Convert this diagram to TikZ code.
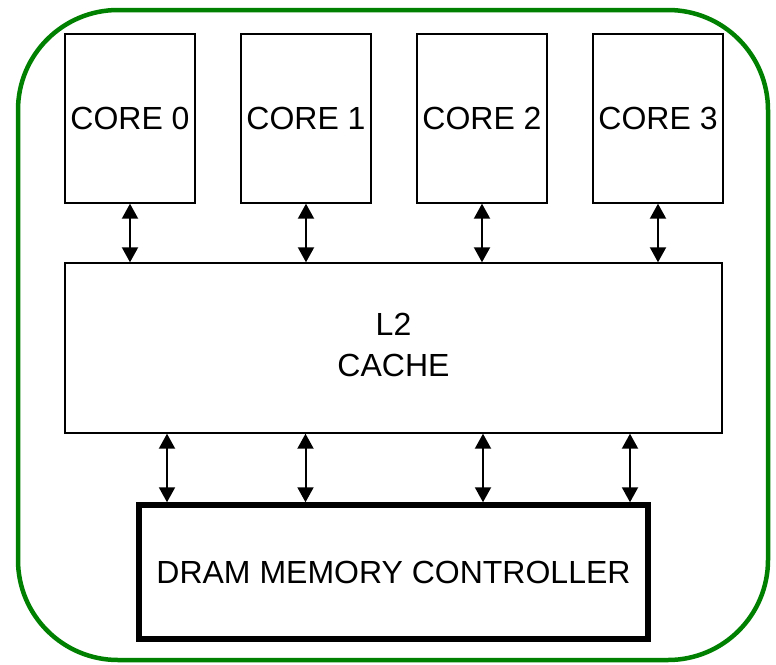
\documentclass[tikz,border=0pt]{standalone}
\usepackage{fontspec}
\setmainfont{Liberation Sans}
\usetikzlibrary{arrows.meta}
\definecolor{chipgreen}{RGB}{0,128,0}
\begin{document}
\begin{tikzpicture}[x=1pt,y=-1pt,
  box/.style={draw=black, line width=1.4pt, fill=white, inner sep=0pt,
    font=\fontsize{32}{41}\selectfont, align=center},
  corebox/.style={box, minimum width=130pt, minimum height=169pt},
  link/.style={line width=2pt,
    {Triangle[length=15pt,width=16pt]}-{Triangle[length=15pt,width=16pt]}}]
  \useasboundingbox (0,0) rectangle (776,664);
  % chip outline
  \draw[chipgreen, line width=4.5pt, rounded corners=100pt] (18,10) rectangle (768,660);
  % cores
  \node[corebox] (core0) at (130,118.5) {CORE 0};
  \node[corebox] (core1) at (306,118.5) {CORE 1};
  \node[corebox] (core2) at (482,118.5) {CORE 2};
  \node[corebox] (core3) at (658,118.5) {CORE 3};
  % shared cache
  \node[box, minimum width=657pt, minimum height=170pt] (l2) at (393.5,348)
    {\raisebox{2pt}{\begin{tabular}{@{}c@{}}L2\\CACHE\end{tabular}}};
  % memory controller
  \node[box, line width=5.5pt, minimum width=509pt, minimum height=134pt] (dram) at (393.5,572)
    {DRAM MEMORY CONTROLLER};
  % core <-> cache links
  \foreach \c in {core0,core1,core2,core3}
    \draw[link] (\c.south) -- (\c.south |- l2.north);
  % cache <-> controller links
  \coordinate (m0) at (167,0);
  \coordinate (m1) at (305.5,0);
  \coordinate (m2) at (483,0);
  \coordinate (m3) at (630,0);
  \foreach \m in {m0,m1,m2,m3}
    \draw[link] (l2.south -| \m) -- (dram.north -| \m);
\end{tikzpicture}
\end{document}
